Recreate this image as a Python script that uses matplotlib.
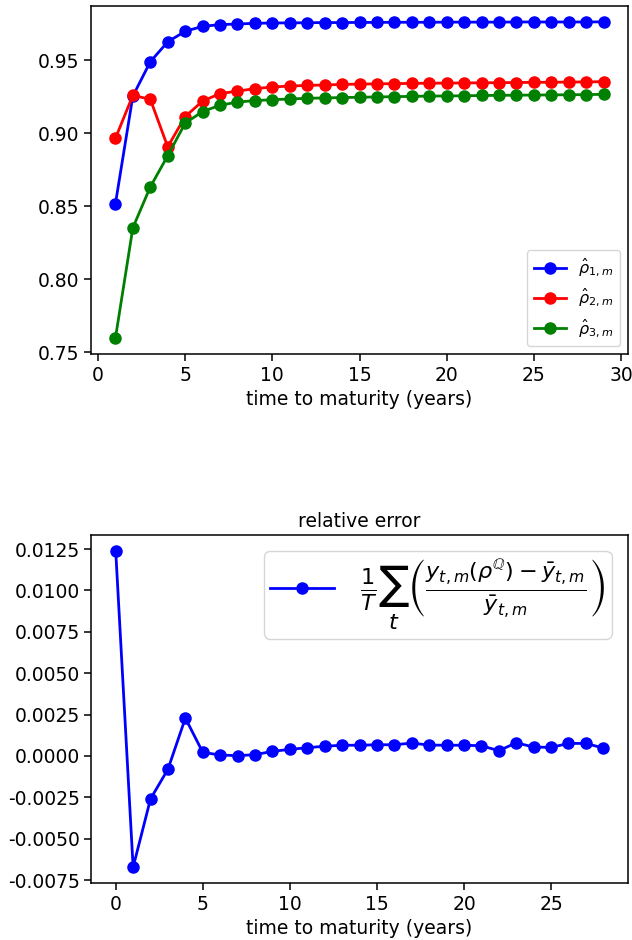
import numpy as np
import matplotlib
matplotlib.use("Agg")
import matplotlib.pyplot as plt

# maturities (years)
maturity_rho = list(range(1, 30))
maturity_err = list(range(0, 29))

rho1 = [0.8517, 0.9256, 0.9491, 0.9628, 0.9700, 0.9734, 0.9746, 0.9750, 0.9755,
        0.9757, 0.9758, 0.9759, 0.9760, 0.9760, 0.9761, 0.9761, 0.9762, 0.9762,
        0.9762, 0.9763, 0.9763, 0.9763, 0.9763, 0.9764, 0.9764, 0.9764, 0.9764,
        0.9764, 0.9765]
rho2 = [0.8966, 0.9261, 0.9234, 0.8908, 0.9115, 0.9222, 0.9273, 0.9290, 0.9307,
        0.9318, 0.9325, 0.9329, 0.9332, 0.9336, 0.9338, 0.9340, 0.9341, 0.9343,
        0.9344, 0.9345, 0.9346, 0.9347, 0.9348, 0.9349, 0.9350, 0.9351, 0.9352,
        0.9353, 0.9355]
rho3 = [0.7596, 0.8353, 0.8633, 0.8847, 0.9070, 0.9150, 0.9193, 0.9215, 0.9225,
        0.9231, 0.9236, 0.9241, 0.9243, 0.9246, 0.9248, 0.9250, 0.9252, 0.9254,
        0.9256, 0.9257, 0.9258, 0.9260, 0.9261, 0.9262, 0.9263, 0.9264, 0.9265,
        0.9266, 0.9268]

rel_error = [0.01240, -0.00672, -0.00259, -0.00080, 0.00229, 0.00022, 0.00006,
             0.00002, 0.00008, 0.00028, 0.00040, 0.00050, 0.00059, 0.00065,
             0.00065, 0.00068, 0.00068, 0.00078, 0.00066, 0.00065, 0.00065,
             0.00062, 0.00032, 0.00080, 0.00054, 0.00052, 0.00076, 0.00076,
             0.00048]

rho_labels = [r'$\hat{\rho}_{1,m}$', r'$\hat{\rho}_{2,m}$', r'$\hat{\rho}_{3,m}$']
err_label = (r'$\frac{1}{T}\sum_t\left(\frac{y_{t,m}(\rho^{\mathbb{Q}})'
             r' - \bar{y}_{t,m}}{\bar{y}_{t,m}}\right)$')

plt.rcParams.update({
    'font.size': 13.5,
    'axes.linewidth': 1.1,
    'xtick.major.size': 4.8,
    'ytick.major.size': 4.8,
    'xtick.major.width': 1.1,
    'ytick.major.width': 1.1,
    'lines.linewidth': 2.0,
    'lines.markersize': 8.0,
})

fig = plt.figure(figsize=(6.32, 9.40), dpi=100)
ax1 = fig.add_axes([0.144, 0.6234, 0.8497, 0.3702])
ax2 = fig.add_axes([0.1445, 0.0606, 0.8487, 0.3703])

for vals, col, lab in zip([rho1, rho2, rho3], ['blue', 'red', 'green'], rho_labels):
    ax1.plot(maturity_rho, vals, '-o', color=col, label=lab)
ax1.set_xlabel('time to maturity (years)')
ax1.set_yticks([0.75, 0.80, 0.85, 0.90, 0.95])
ax1.legend(loc='lower right', fontsize=11.5)

ax2.plot(maturity_err, rel_error, '-o', color='blue', label=err_label)
ax2.set_title('relative error', fontsize=13.5)
ax2.set_xlabel('time to maturity (years)')
ax2.set_yticks(np.arange(-0.0075, 0.0126, 0.0025))
ax2.set_yticklabels([f'{v:.4f}' for v in np.arange(-0.0075, 0.0126, 0.0025)])
ax2.legend(loc='upper right', fontsize=23, handlelength=2.0, borderpad=0.2)

fig.savefig('out.png', dpi=100)
